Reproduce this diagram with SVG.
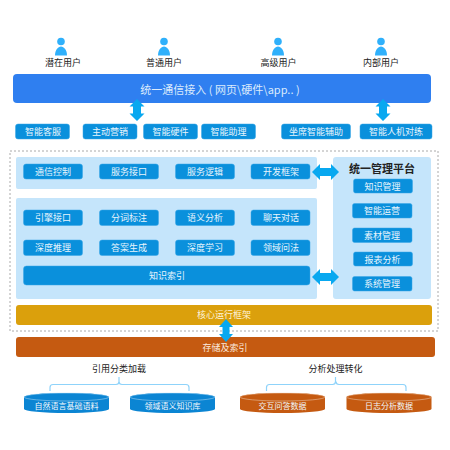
<svg xmlns="http://www.w3.org/2000/svg" width="450" height="450" viewBox="0 0 450 450">
<style>
text{font-family:"Noto Sans CJK SC","Liberation Sans",sans-serif;text-anchor:middle;dominant-baseline:central}
.u{font-size:9px;fill:#222}
.b{fill:#0a90dc;stroke:#3aa6e6;stroke-width:.5}
.w{font-size:9px;fill:#e8f5fd}
.p{fill:#c5e5fb}
.a{fill:#08a8f0}
.c{font-size:8px;fill:#f2f8fc}
.h{font-size:9px;fill:#222}
.br{fill:none;stroke:#8fd3fa;stroke-width:1.2}
.person{fill:#2fb0fb}
</style>
<rect width="450" height="450" fill="#fff"/>
<g id="user1"><circle class="person" cx="61" cy="41.500" r="3.800"/><path class="person" d="M55 55.500C55 50 58 46.500 61 46.500C64 46.500 67 50 67 55.500Z"/><text class="u" x="63" y="62.500">潜在用户</text></g>
<g id="user2"><circle class="person" cx="164" cy="41.500" r="3.800"/><path class="person" d="M158 55.500C158 50 161 46.500 164 46.500C167 46.500 170 50 170 55.500Z"/><text class="u" x="164" y="62.500">普通用户</text></g>
<g id="user3"><circle class="person" cx="278" cy="41.500" r="3.800"/><path class="person" d="M272 55.500C272 50 275 46.500 278 46.500C281 46.500 284 50 284 55.500Z"/><text class="u" x="278.500" y="62.500">高级用户</text></g>
<g id="user4"><circle class="person" cx="381" cy="41.500" r="3.800"/><path class="person" d="M375 55.500C375 50 378 46.500 381 46.500C384 46.500 387 50 387 55.500Z"/><text class="u" x="381" y="62.500">内部用户</text></g>
<g id="access"><rect x="13" y="74" width="418" height="29" rx="4" fill="#2f7ff0"/><text x="220" y="88.500" font-size="11" fill="#dcebfc">统一通信接入 ( 网页\硬件\app.. )</text></g>
<g id="app1"><rect class="b" x="15.500" y="124" width="54" height="15" rx="2.500"/><text class="w" x="43" y="131.500">智能客服</text></g>
<g id="app2"><rect class="b" x="83" y="124" width="54" height="15" rx="2.500"/><text class="w" x="110" y="131.500">主动营销</text></g>
<g id="app3"><rect class="b" x="143.500" y="124" width="54" height="15" rx="2.500"/><text class="w" x="170.500" y="131.500">智能硬件</text></g>
<g id="app4"><rect class="b" x="201.500" y="124" width="54" height="15" rx="2.500"/><text class="w" x="228.500" y="131.500">智能助理</text></g>
<g id="app5"><rect class="b" x="281.500" y="124" width="69" height="15" rx="2.500"/><text class="w" x="316" y="131.500">坐席智能辅助</text></g>
<g id="app6"><rect class="b" x="360" y="124" width="72" height="15" rx="2.500"/><text class="w" x="396" y="131.500">智能人机对练</text></g>
<g id="frame"><rect x="10" y="151" width="428" height="180" fill="none" stroke="#aaa" stroke-width="1" stroke-dasharray="2 2"/></g>
<g id="panel1"><rect class="p" x="16" y="157" width="301" height="32" rx="2"/></g>
<g id="panel2"><rect class="p" x="16" y="198" width="301" height="101" rx="2"/></g>
<g id="panel3"><rect class="p" x="333" y="157" width="98" height="142" rx="3"/><text x="382" y="167.500" font-size="11" font-weight="700" fill="#222">统一管理平台</text></g>
<g id="n1"><rect class="b" x="23.500" y="164" width="59" height="15" rx="2.500"/><text class="w" x="53" y="171.500">通信控制</text></g>
<g id="n2"><rect class="b" x="99.500" y="164" width="59" height="15" rx="2.500"/><text class="w" x="129" y="171.500">服务接口</text></g>
<g id="n3"><rect class="b" x="175.500" y="164" width="59" height="15" rx="2.500"/><text class="w" x="205" y="171.500">服务逻辑</text></g>
<g id="n4"><rect class="b" x="251" y="164" width="59" height="15" rx="2.500"/><text class="w" x="281" y="171.500">开发框架</text></g>
<g id="n5"><rect class="b" x="23.500" y="210" width="59" height="15.500" rx="2.500"/><text class="w" x="53" y="217.500">引擎接口</text></g>
<g id="n6"><rect class="b" x="99.500" y="210" width="59" height="15.500" rx="2.500"/><text class="w" x="129" y="217.500">分词标注</text></g>
<g id="n7"><rect class="b" x="175.500" y="210" width="59" height="15.500" rx="2.500"/><text class="w" x="205" y="217.500">语义分析</text></g>
<g id="n8"><rect class="b" x="251" y="210" width="59" height="15.500" rx="2.500"/><text class="w" x="281" y="217.500">聊天对话</text></g>
<g id="n9"><rect class="b" x="23.500" y="240" width="59" height="15.500" rx="2.500"/><text class="w" x="53" y="247.500">深度推理</text></g>
<g id="n10"><rect class="b" x="99.500" y="240" width="59" height="15.500" rx="2.500"/><text class="w" x="129" y="247.500">答案生成</text></g>
<g id="n11"><rect class="b" x="175.500" y="240" width="59" height="15.500" rx="2.500"/><text class="w" x="205" y="247.500">深度学习</text></g>
<g id="n12"><rect class="b" x="251" y="240" width="59" height="15.500" rx="2.500"/><text class="w" x="281" y="247.500">领域问法</text></g>
<g id="n13"><rect class="b" x="23.500" y="266" width="286.500" height="19" rx="3"/><text class="w" x="167" y="275">知识索引</text></g>
<g id="m1"><rect class="b" x="353.500" y="179" width="59" height="14" rx="2"/><text class="w" x="382.500" y="186">知识管理</text></g>
<g id="m2"><rect class="b" x="352.500" y="203.500" width="59.500" height="14.500" rx="2"/><text class="w" x="382" y="210.500">智能运营</text></g>
<g id="m3"><rect class="b" x="352.500" y="228" width="59.500" height="14.500" rx="2"/><text class="w" x="382" y="235">素材管理</text></g>
<g id="m4"><rect class="b" x="353.500" y="252" width="59" height="14" rx="2"/><text class="w" x="382.500" y="259">报表分析</text></g>
<g id="m5"><rect class="b" x="352.500" y="276.500" width="59.500" height="14.500" rx="2"/><text class="w" x="382" y="283.500">系统管理</text></g>
<g id="core"><rect x="16" y="305" width="416" height="20" rx="3" fill="#dba00c"/><text x="224" y="314.500" font-size="9" fill="#fdf3d8">核心运行框架</text></g>
<g id="store"><rect x="16" y="337" width="419" height="20" rx="3" fill="#c55a11"/><text x="225" y="347" font-size="9" fill="#fbeadf">存储及索引</text></g>
<g id="connectors">
<path class="a" d="M137 99l7.500 7.500h-3.500v7h3.500l-7.500 7.500l-7.500-7.500h3.500v-7h-3.500z"/>
<path class="a" d="M383 99l7.500 7.500h-3.500v7h3.500l-7.500 7.500l-7.500-7.500h3.500v-7h-3.500z"/>
<path class="a" d="M226 319l7 8h-3.500v7h3.500l-7 8l-7-8h3.500v-7h-3.500z"/>
<path class="a" d="M312 172l8-8v4h11v-4l8 8l-8 8v-4h-11v4z"/>
<path class="a" d="M312 277l8-8v4h11v-4l8 8l-8 8v-4h-11v4z"/>
<path class="br" d="M50 391v-3.500q0-3 3-3h63q3 0 3-3v-4.500M119 381.500q0 3 3 3h64q3 0 3 3v3.500"/>
<path class="br" d="M266.500 391v-3.500q0-3 3-3h63q3 0 3-3v-4.500M336 381.500q0 3 3 3h64q3 0 3 3v3.500"/>
</g>
<g id="label1"><text class="h" x="119" y="368">引用分类加载</text></g>
<g id="label2"><text class="h" x="335.500" y="368">分析处理转化</text></g>
<g id="db1"><path d="M24 397a42.500 4 0 0 1 85 0v12a42.500 4 0 0 1-85 0z" fill="#0b85d3"/><ellipse cx="66.500" cy="397" rx="42.500" ry="4" fill="#0b85d3" stroke="#bfe3f8" stroke-width=".5"/><text class="c" x="66.500" y="405">自然语言基础语料</text></g>
<g id="db2"><path d="M130 397a42.500 4 0 0 1 85 0v12a42.500 4 0 0 1-85 0z" fill="#0b85d3"/><ellipse cx="172.500" cy="397" rx="42.500" ry="4" fill="#0b85d3" stroke="#bfe3f8" stroke-width=".5"/><text class="c" x="172.500" y="405">领域语义知识库</text></g>
<g id="db3"><path d="M240 397a42.500 4 0 0 1 85 0v12a42.500 4 0 0 1-85 0z" fill="#c55a11"/><ellipse cx="282.500" cy="397" rx="42.500" ry="4" fill="#c55a11" stroke="#f3d6c0" stroke-width=".5"/><text class="c" x="282.500" y="405">交互问答数据</text></g>
<g id="db4"><path d="M346.500 397a42.500 4 0 0 1 85 0v12a42.500 4 0 0 1-85 0z" fill="#c55a11"/><ellipse cx="389" cy="397" rx="42.500" ry="4" fill="#c55a11" stroke="#f3d6c0" stroke-width=".5"/><text class="c" x="389" y="405">日志分析数据</text></g>
</svg>
